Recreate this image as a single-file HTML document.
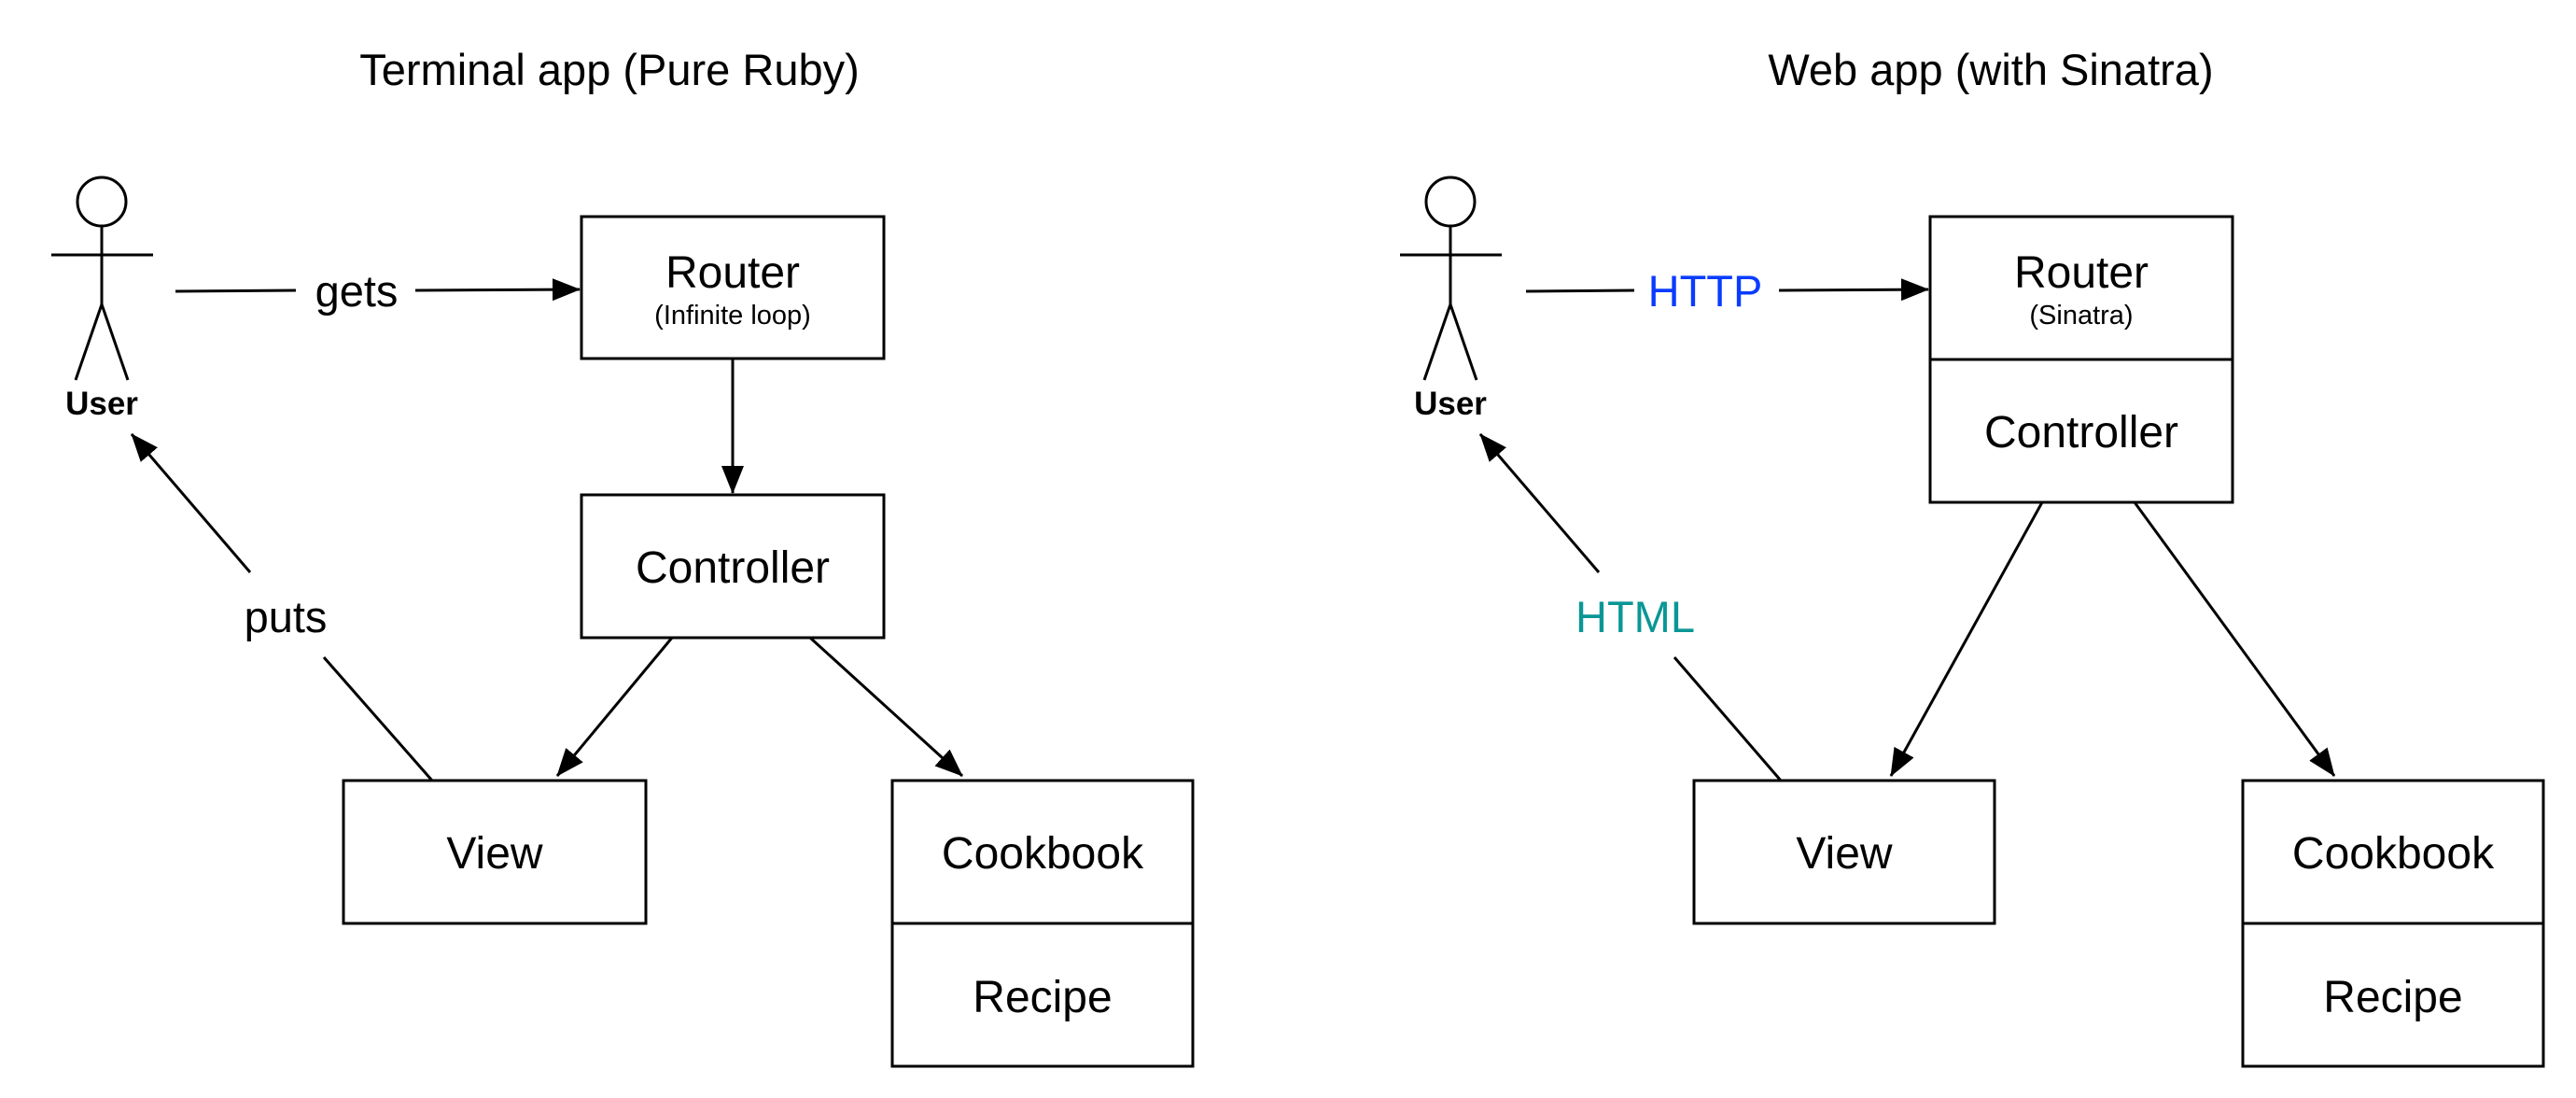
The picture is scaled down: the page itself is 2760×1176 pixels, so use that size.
<!DOCTYPE html>
<html><head><meta charset="utf-8"><style>
html,body{margin:0;padding:0;background:#fff;}
svg{display:block;font-family:"Liberation Sans",Arial,sans-serif;}
</style></head><body>
<svg width="2760" height="1176" viewBox="0 0 2760 1176" xmlns="http://www.w3.org/2000/svg">
<defs>
<marker id="ar" viewBox="0 0 30 24" refX="29" refY="12" markerWidth="30" markerHeight="24" orient="auto" markerUnits="userSpaceOnUse"><path d="M0,0 L30,12 L0,24 z" fill="#000"/></marker>
</defs>
<g fill="#000" text-anchor="middle">
<text x="653" y="91" font-size="47">Terminal app (Pure Ruby)</text>
<text x="2133" y="91" font-size="47">Web app (with Sinatra)</text>
</g>

<g stroke="#000" stroke-width="3" fill="none">
<circle cx="109" cy="216" r="26"/>
<line x1="109" y1="242" x2="109" y2="326"/>
<line x1="55" y1="273" x2="164" y2="273"/>
<line x1="109" y1="326" x2="81" y2="407"/>
<line x1="109" y1="326" x2="137" y2="407"/>
<circle cx="1554" cy="216" r="26"/>
<line x1="1554" y1="242" x2="1554" y2="326"/>
<line x1="1500" y1="273" x2="1609" y2="273"/>
<line x1="1554" y1="326" x2="1526" y2="407"/>
<line x1="1554" y1="326" x2="1582" y2="407"/>

<rect x="623" y="232" width="324" height="152"/>
<rect x="623" y="530" width="324" height="153"/>
<rect x="368" y="836" width="324" height="153"/>
<rect x="956" y="836" width="322" height="306"/>
<line x1="956" y1="989" x2="1278" y2="989"/>
<rect x="2068" y="232" width="324" height="306"/>
<line x1="2068" y1="385" x2="2392" y2="385"/>
<rect x="1815" y="836" width="322" height="153"/>
<rect x="2403" y="836" width="322" height="306"/>
<line x1="2403" y1="989" x2="2725" y2="989"/>

<line x1="188" y1="312" x2="317" y2="311"/>
<line x1="445" y1="311" x2="621" y2="310" marker-end="url(#ar)"/>
<line x1="785" y1="384" x2="785" y2="528" marker-end="url(#ar)"/>
<line x1="720" y1="683" x2="597" y2="831" marker-end="url(#ar)"/>
<line x1="868" y1="683" x2="1031" y2="831" marker-end="url(#ar)"/>
<line x1="463" y1="836" x2="347" y2="704"/>
<line x1="268" y1="613" x2="141" y2="465" marker-end="url(#ar)"/>

<line x1="1635" y1="312" x2="1751" y2="311"/>
<line x1="1906" y1="311" x2="2066" y2="310" marker-end="url(#ar)"/>
<line x1="2188" y1="538" x2="2026" y2="831" marker-end="url(#ar)"/>
<line x1="2287" y1="538" x2="2501" y2="831" marker-end="url(#ar)"/>
<line x1="1908" y1="836" x2="1794" y2="704"/>
<line x1="1713" y1="613" x2="1586" y2="465" marker-end="url(#ar)"/>
</g>

<g fill="#000" text-anchor="middle">
<text x="109" y="444" font-size="35" font-weight="bold">User</text>
<text x="1554" y="444" font-size="35" font-weight="bold">User</text>
<text x="382" y="328" font-size="47">gets</text>
<text x="306" y="677" font-size="47">puts</text>
<text x="785" y="308" font-size="48">Router</text>
<text x="785" y="347" font-size="29">(Infinite loop)</text>
<text x="785" y="624" font-size="48">Controller</text>
<text x="530" y="930" font-size="48">View</text>
<text x="1117" y="930" font-size="48">Cookbook</text>
<text x="1117" y="1084" font-size="48">Recipe</text>

<text x="2230" y="308" font-size="48">Router</text>
<text x="2230" y="347" font-size="29">(Sinatra)</text>
<text x="2230" y="479" font-size="48">Controller</text>
<text x="1976" y="930" font-size="48">View</text>
<text x="2564" y="930" font-size="48">Cookbook</text>
<text x="2564" y="1084" font-size="48">Recipe</text>
<text x="1827" y="328" font-size="47" fill="#0a3cff">HTTP</text>
<text x="1752" y="677" font-size="47" fill="#0a9696">HTML</text>
</g>
</svg>
</body></html>
